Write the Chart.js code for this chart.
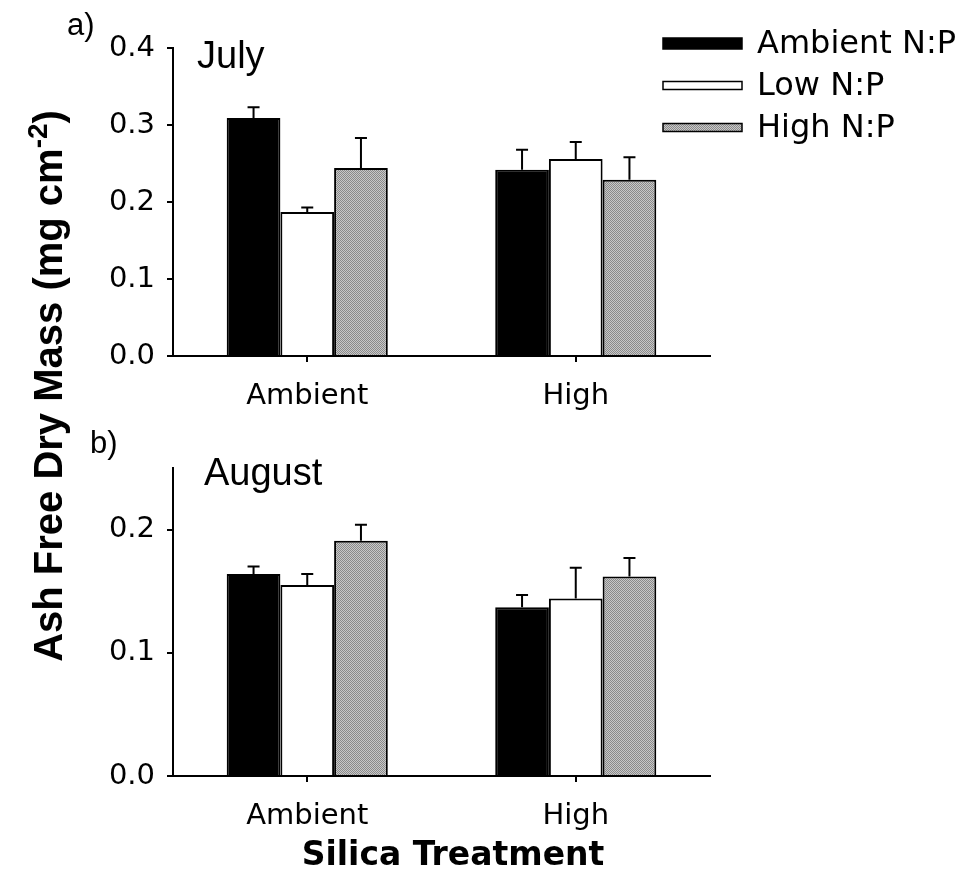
<!DOCTYPE html>
<html>
<head>
<meta charset="utf-8">
<script src="https://cdn.jsdelivr.net/npm/chart.js@4.4.1/dist/chart.umd.min.js"></script>
<style>
  body { margin: 0; background: #fff; }
  #wrap { position: relative; width: 959px; height: 895px; overflow: hidden; }
  #wrap canvas { position: absolute; left: 0; }
  .lbl { position: absolute; line-height: 1; white-space: nowrap; color: #000; }
  .panel { font-family: "Liberation Sans", Arial, sans-serif; font-size: 38px; }
  .letter { font-family: "Liberation Sans", Arial, sans-serif; font-size: 31px; }
  #ytitle {
    font-family: "Liberation Sans", Arial, sans-serif; font-weight: bold; font-size: 40px;
    width: 600px; height: 40px; text-align: center;
    left: -252.5px; top: 366px; transform: rotate(-90deg);
  }
  #ytitle sup { font-size: 0.7em; line-height: 0; vertical-align: 0.55em; }
  #xtitle {
    font-family: "DejaVu Sans", sans-serif; font-weight: bold; font-size: 33px;
    left: 453px; top: 837px; transform: translateX(-50%);
  }
</style>
</head>
<body>
<div id="wrap">
  <canvas id="julyChart" width="959" height="420" style="top:0"></canvas>
  <canvas id="augustChart" width="959" height="475" style="top:420px"></canvas>
  <div class="lbl letter" style="left:67px; top:9px">a)</div>
  <div class="lbl letter" style="left:90px; top:427px">b)</div>
  <div class="lbl panel" style="left:197px; top:36px">July</div>
  <div class="lbl panel" style="left:204px; top:453px">August</div>
  <div class="lbl" id="ytitle">Ash Free Dry Mass (mg cm<sup>-2</sup>)</div>
  <div class="lbl" id="xtitle">Silica Treatment</div>
</div>
<script>
// silica treatment groups and N:P treatments
const categories = ['Ambient', 'High'];
const seriesNames = ['Ambient N:P', 'Low N:P', 'High N:P'];

// July (panel a) - means and standard errors
const julyAmbientNP = [0.309, 0.242];
const julyLowNP = [0.187, 0.256];
const julyHighNP = [0.244, 0.229];
const julyAmbientNPErr = [0.014, 0.026];
const julyLowNPErr = [0.006, 0.022];
const julyHighNPErr = [0.039, 0.029];

// August (panel b)
const augAmbientNP = [0.164, 0.137];
const augLowNP = [0.155, 0.144];
const augHighNP = [0.191, 0.162];
const augAmbientNPErr = [0.006, 0.010];
const augLowNPErr = [0.009, 0.025];
const augHighNPErr = [0.013, 0.015];

// y axis ranges / tick labels
const julyMax = 0.4;
const augMax = 0.25;
const tickStep = 0.1;

Chart.defaults.font.family = '"DejaVu Sans", sans-serif';
Chart.defaults.color = '#000';

// stippled grey like the printed figure
function greyPattern() {
  const c = document.createElement('canvas');
  c.width = 2; c.height = 2;
  const g = c.getContext('2d');
  g.fillStyle = '#c8c8c8'; g.fillRect(0, 0, 2, 2);
  g.fillStyle = '#8a8a8a'; g.fillRect(0, 0, 1, 1); g.fillRect(1, 1, 1, 1);
  return g.createPattern(c, 'repeat');
}
const fills = ['#000000', '#ffffff', greyPattern()];

// error bars (upper only)
const errorBars = {
  id: 'errorBars',
  afterDatasetsDraw(chart) {
    const ctx = chart.ctx;
    const y = chart.scales.y;
    chart.data.datasets.forEach((ds, i) => {
      const meta = chart.getDatasetMeta(i);
      meta.data.forEach((bar, j) => {
        const top = y.getPixelForValue(ds.data[j] + ds.errors[j]);
        ctx.save();
        ctx.strokeStyle = '#000';
        ctx.lineWidth = 2;
        ctx.beginPath();
        ctx.moveTo(bar.x, bar.y);
        ctx.lineTo(bar.x, top);
        ctx.moveTo(bar.x - 6, top);
        ctx.lineTo(bar.x + 6, top);
        ctx.stroke();
        ctx.restore();
      });
    });
  }
};

// legend in the top right corner
const sideLegend = {
  id: 'sideLegend',
  afterDraw(chart) {
    const ctx = chart.ctx;
    const heights = [11, 8, 8];
    ctx.save();
    ctx.font = '32px "DejaVu Sans", sans-serif';
    ctx.textBaseline = 'middle';
    chart.data.datasets.forEach((ds, i) => {
      const cy = 43.5 + i * 42;
      const h = heights[i];
      ctx.fillStyle = ds.backgroundColor;
      ctx.fillRect(663, cy - h / 2, 79, h);
      ctx.strokeStyle = '#000';
      ctx.lineWidth = 1.5;
      ctx.strokeRect(663, cy - h / 2, 79, h);
      ctx.fillStyle = '#000';
      ctx.fillText(ds.label, 757, cy + 1);
    });
    ctx.restore();
  }
};

function makeDatasets(values, errors) {
  return seriesNames.map((name, i) => ({
    label: name,
    data: values[i],
    errors: errors[i],
    backgroundColor: fills[i],
    borderColor: '#000',
    borderWidth: 2,
    categoryPercentage: 0.6,
    barPercentage: 1.0
  }));
}

// both panels: plot area x 173..710, y 48..356 inside their canvas
function makeOptions(maxY, canvasH) {
  return {
    responsive: false,
    animation: false,
    layout: { padding: { top: 48, right: 249, left: 0, bottom: canvasH - 420 } },
    plugins: { legend: { display: false }, tooltip: { enabled: false } },
    scales: {
      x: {
        afterFit: s => { s.height = 64; },
        grid: { offset: false, drawOnChartArea: false, color: '#000', lineWidth: 2, tickLength: 6 },
        border: { color: '#000', width: 2 },
        ticks: { font: { size: 29 }, padding: 17, color: '#000' }
      },
      y: {
        min: 0,
        max: maxY,
        afterFit: s => { s.width = 173; },
        grid: { drawOnChartArea: false, color: '#000', lineWidth: 2, tickLength: 6 },
        border: { color: '#000', width: 2 },
        ticks: {
          stepSize: tickStep,
          includeBounds: false,
          font: { size: 29 },
          padding: 12,
          color: '#000',
          callback: v => v.toFixed(1)
        }
      }
    }
  };
}

new Chart(document.getElementById('julyChart'), {
  type: 'bar',
  data: {
    labels: categories,
    datasets: makeDatasets([julyAmbientNP, julyLowNP, julyHighNP], [julyAmbientNPErr, julyLowNPErr, julyHighNPErr])
  },
  options: makeOptions(julyMax, 420),
  plugins: [errorBars, sideLegend]
});

new Chart(document.getElementById('augustChart'), {
  type: 'bar',
  data: {
    labels: categories,
    datasets: makeDatasets([augAmbientNP, augLowNP, augHighNP], [augAmbientNPErr, augLowNPErr, augHighNPErr])
  },
  options: makeOptions(augMax, 475),
  plugins: [errorBars]
});
</script>
</body>
</html>
